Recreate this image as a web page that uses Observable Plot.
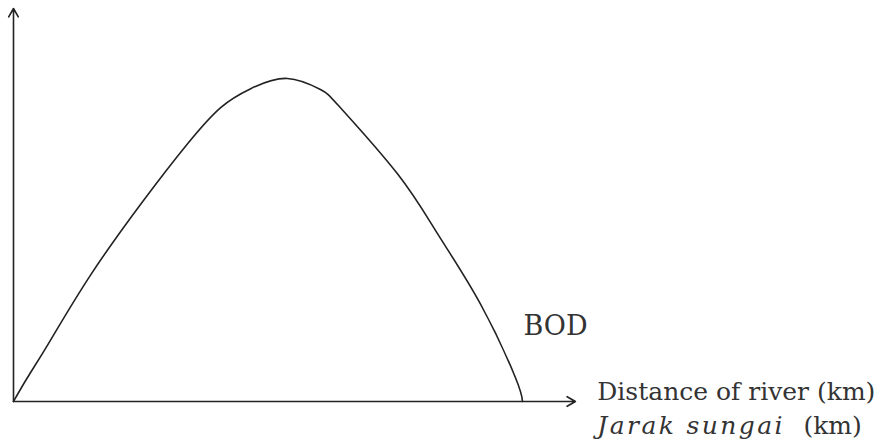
<!DOCTYPE html>
<html>
<head>
<meta charset="utf-8">
<script src="https://cdn.jsdelivr.net/npm/d3@7"></script>
<script src="https://cdn.jsdelivr.net/npm/@observablehq/plot@0.6"></script>
<style>
  html, body { margin: 0; padding: 0; background: #fff; }
  #chart svg { display: block; }
  #chart svg .ms-italic text { letter-spacing: 2.4px; }
</style>
</head>
<body>
<div id="chart"></div>
<script>
// Distance along river (arbitrary units, 0 = origin, 100 = where BOD returns to zero)
const distance = [0, 2.75, 6.9, 15.1, 25.5, 34.2, 40.7, 46.6, 53.8, 60.3, 64.2, 75.4, 83.3, 91.7, 98.6, 100];
// BOD level (arbitrary units, axis top = 100)
const bod = [0, 6.1, 14.8, 32.1, 51.1, 65.6, 74.8, 79.6, 82.2, 79.4, 74.8, 58.0, 42.7, 24.9, 6.1, 0];

const axisEndX = 110.4;
const axisEndY = 100;

const curveLabel = ["BOD"];
const xLabelEn = ["Distance of river (km)"];
const xLabelMsItalic = ["Jarak sungai"];
const xLabelMsUnit = ["(km)"];

const curve = distance.map((d, i) => ({distance: d, bod: bod[i]}));

const font = "DejaVu Serif, Liberation Serif, serif";

const chart = Plot.plot({
  width: 885,
  height: 448,
  marginLeft: 13,
  marginRight: 363,
  marginTop: 8,
  marginBottom: 47,
  x: {domain: [0, 100], axis: null},
  y: {domain: [0, 100], axis: null},
  style: {background: "#fff", fontFamily: font},
  marks: [
    Plot.arrow([{x1: 0, y1: 0, x2: axisEndX, y2: 0}], {x1: "x1", y1: "y1", x2: "x2", y2: "y2", stroke: "#222", strokeWidth: 1.6, headLength: 9, bend: 0}),
    Plot.arrow([{x1: 0, y1: 0, x2: 0, y2: axisEndY}], {x1: "x1", y1: "y1", x2: "x2", y2: "y2", stroke: "#222", strokeWidth: 1.6, headLength: 9, bend: 0}),
    Plot.line(curve, {x: "distance", y: "bod", curve: "natural", stroke: "#222", strokeWidth: 1.6}),
    Plot.text(curveLabel, {x: () => 100.2, y: () => 16.8, text: d => d, textAnchor: "start", lineAnchor: "bottom", fontSize: 27, fill: "#333", fontFamily: font}),
    Plot.text(xLabelEn, {x: () => 114.7, y: () => 0.3, text: d => d, textAnchor: "start", lineAnchor: "bottom", fontSize: 25, fill: "#333", fontFamily: font}),
    Plot.text(xLabelMsItalic, {x: () => 114.7, y: () => -8.3, text: d => d, textAnchor: "start", lineAnchor: "bottom", fontSize: 25, fontStyle: "italic", fill: "#333", fontFamily: font, className: "ms-italic"}),
    Plot.text(xLabelMsUnit, {x: () => 155.2, y: () => -8.3, text: d => d, textAnchor: "start", lineAnchor: "bottom", fontSize: 25, fill: "#333", fontFamily: font})
  ]
});

document.getElementById("chart").appendChild(chart);
</script>
</body>
</html>
